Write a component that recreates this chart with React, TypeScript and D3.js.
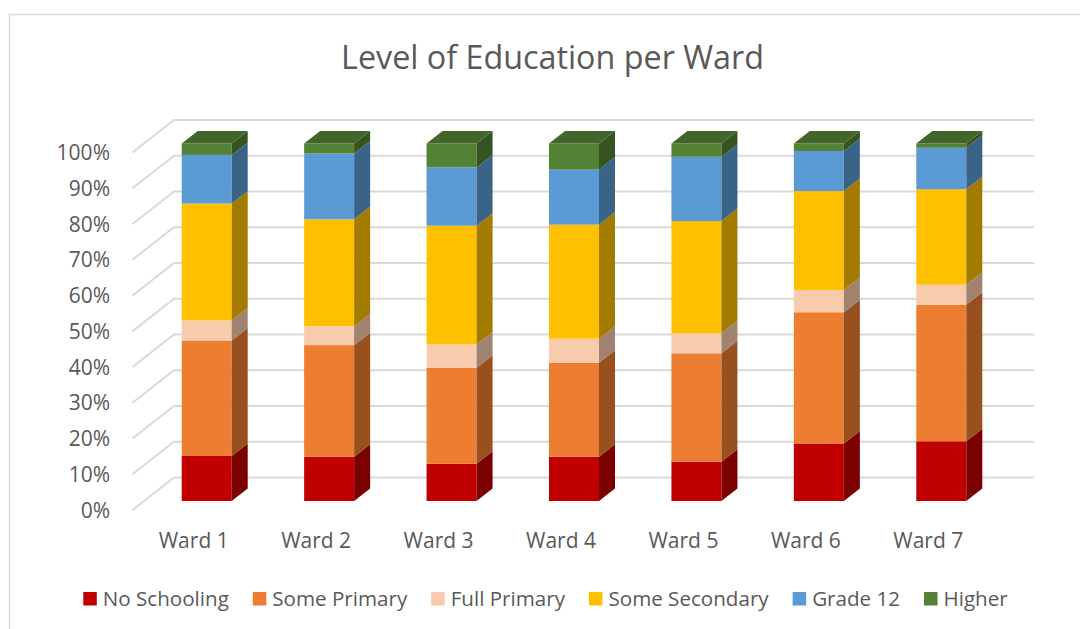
import React from "react";
import * as d3 from "d3";

const wards = ["Ward 1", "Ward 2", "Ward 3", "Ward 4", "Ward 5", "Ward 6", "Ward 7"];
const seriesNames = ["No Schooling", "Some Primary", "Full Primary", "Some Secondary", "Grade 12", "Higher"];
const noSchooling = [12.6, 12.4, 10.4, 12.4, 11.0, 16.1, 16.7];
const somePrimary = [32.3, 31.2, 26.9, 26.3, 30.3, 36.7, 38.2];
const fullPrimary = [5.6, 5.3, 6.5, 6.7, 5.6, 6.2, 5.6];
const someSecondary = [32.7, 29.9, 33.2, 31.9, 31.4, 27.7, 26.7];
const grade12 = [13.6, 18.4, 16.3, 15.4, 18.0, 11.2, 11.6];
const higher = [3.2, 2.8, 6.7, 7.3, 3.7, 2.1, 1.2];
const seriesColors = ["#C00000", "#ED7D31", "#F8CBAD", "#FFC000", "#5B9BD5", "#548235"];
const yTicks = [0, 0.1, 0.2, 0.3, 0.4, 0.5, 0.6, 0.7, 0.8, 0.9, 1.0];

const FONT = "'Open Sans', 'Liberation Sans', sans-serif";
const TEXT = "#595959";
const GRID = "#D9D9D9";

function shade(c: string, k: number) {
  const r = d3.rgb(c);
  return d3.rgb(r.r * k, r.g * k, r.b * k).formatHex();
}

function measure(text: string, size: number) {
  const cv = document.createElement("canvas");
  const ctx = cv.getContext("2d")!;
  ctx.font = `${size}px 'Open Sans'`;
  return ctx.measureText(text).width;
}

export default function App() {
  const W = 1080, H = 629;
  const values = [noSchooling, somePrimary, fullPrimary, someSecondary, grade12, higher];
  const rows = wards.map((w, i) => {
    const o: any = { ward: w };
    seriesNames.forEach((s, j) => (o[s] = values[j][i]));
    return o;
  });
  const stacked = d3.stack().keys(seriesNames).offset(d3.stackOffsetExpand)(rows);

  const x = d3.scaleBand().domain(wards).range([132.5, 989.5]).paddingInner(0).paddingOuter(0);
  const y = d3.scaleLinear().domain([0, 1]).range([510, 152.5]);

  // depth (oblique projection)
  const WDX = 41.5, WDY = 32.5; // wall depth
  const FX = 13, FY = 9; // bar front face offset
  const SDX = 16, SDY = 12.5; // bar depth
  const barW = 50;

  const grid = yTicks.map((t) => {
    const fy = y(t);
    return `M${x.range()[0]},${fy}L${x.range()[0] + WDX},${fy - WDY}L${x.range()[1] + WDX + 3},${fy - WDY}`;
  });

  // legend layout
  const legSize = 20.6;
  const sq = 13.5;
  const widths = seriesNames.map((s) => measure(s, legSize));
  const itemW = widths.map((w) => sq + 6 + w);
  const gap = 24;
  const total = d3.sum(itemW) + gap * (itemW.length - 1);
  let lx = 545.5 - total / 2;
  const legendPos = itemW.map((w) => {
    const p = lx;
    lx += w + gap;
    return p;
  });

  return (
    <svg width={W} height={H} style={{ position: "absolute", left: 0, top: 0, background: "#fff" }} fontFamily={FONT}>
      <rect x={9.5} y={14.5} width={W + 20} height={H + 20} fill="#fff" stroke={GRID} strokeWidth={1.5} />
      <text x={552.5} y={69} textAnchor="middle" fontSize={32.3} fill={TEXT}>
        Level of Education per Ward
      </text>
      {grid.map((d, i) => (
        <path key={i} d={d} fill="none" stroke={GRID} strokeWidth={2} />
      ))}
      {yTicks.map((t) => (
        <text key={t} x={110} y={y(t)} dy="0.36em" textAnchor="end" fontSize={21} fill={TEXT}>
          {d3.format(".0%")(t)}
        </text>
      ))}
      {wards.map((w, i) => {
        const cx = x(w)! + x.bandwidth() / 2;
        const left = cx + FX - barW / 2;
        const right = left + barW;
        return (
          <g key={w}>
            {stacked.map((s, j) => {
              const d = s[i];
              const yb = y(d[0]) - FY;
              const yt = y(d[1]) - FY;
              const col = seriesColors[j];
              const isTop = j === stacked.length - 1;
              return (
                <g key={j}>
                  <rect x={left} y={yt} width={barW} height={yb - yt} fill={col} />
                  <path
                    d={`M${right},${yb}L${right + SDX},${yb - SDY}L${right + SDX},${yt - SDY}L${right},${yt}Z`}
                    fill={shade(col, 0.64)}
                  />
                  {isTop && (
                    <path
                      d={`M${left},${yt}L${left + SDX},${yt - SDY}L${right + SDX},${yt - SDY}L${right},${yt}Z`}
                      fill={shade(col, 0.78)}
                    />
                  )}
                </g>
              );
            })}
          </g>
        );
      })}
      {wards.map((w) => (
        <text key={w} x={x(w)! + x.bandwidth() / 2} y={548} textAnchor="middle" fontSize={21} fill={TEXT}>
          {w}
        </text>
      ))}
      {seriesNames.map((s, j) => (
        <g key={s} transform={`translate(${legendPos[j]},0)`}>
          <rect x={0} y={592} width={sq} height={sq} fill={seriesColors[j]} />
          <text x={sq + 6} y={606} fontSize={legSize} fill={TEXT}>
            {s}
          </text>
        </g>
      ))}
    </svg>
  );
}
